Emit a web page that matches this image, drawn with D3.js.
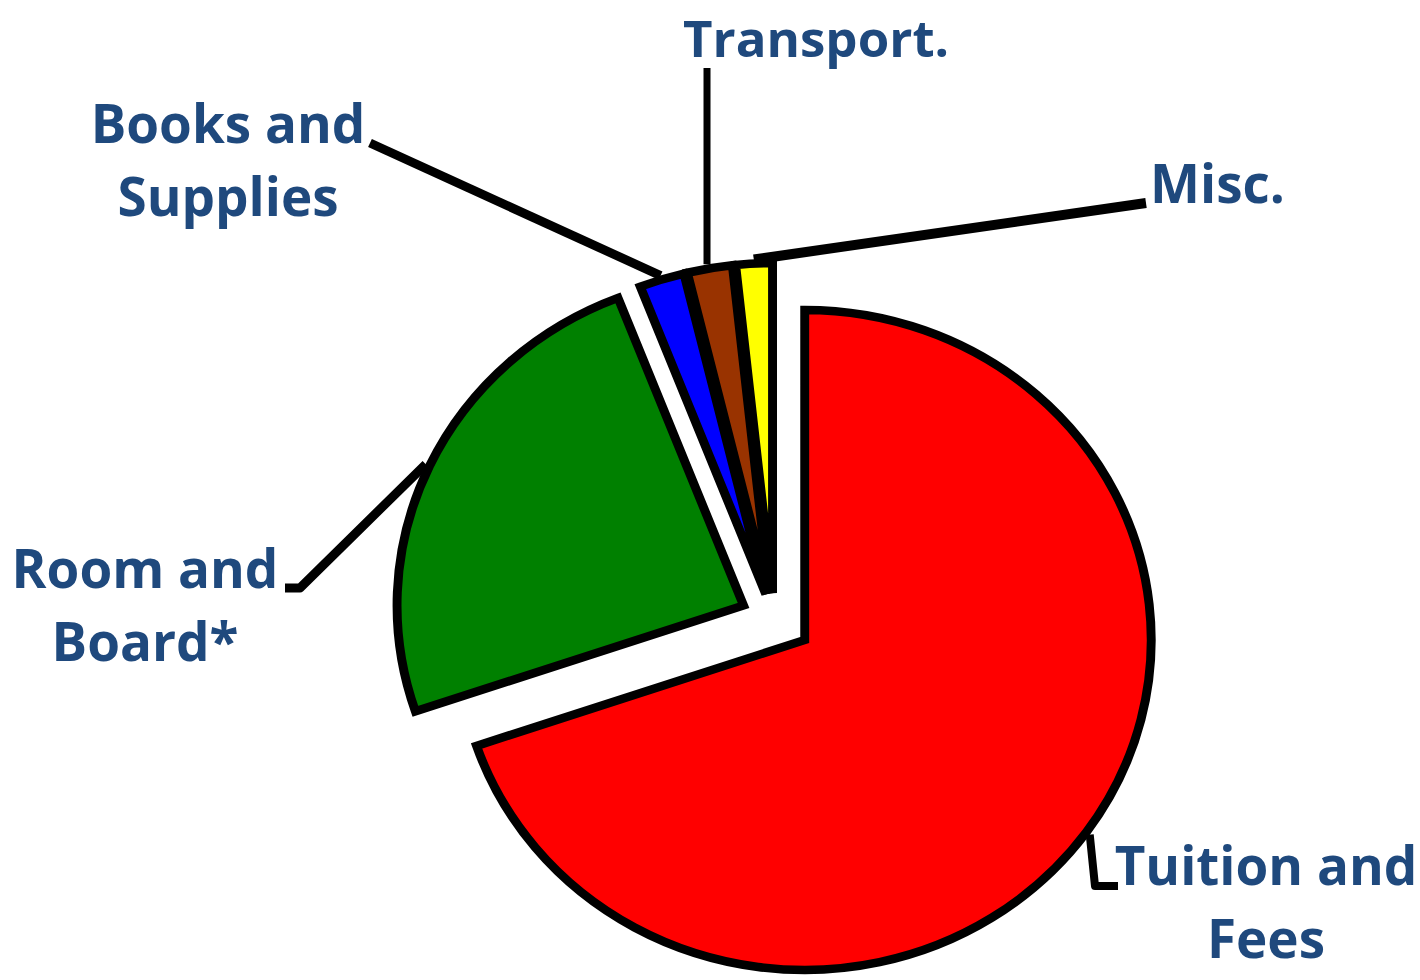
<!DOCTYPE html>
<html>
<head>
<meta charset="utf-8">
<script src="https://cdn.jsdelivr.net/npm/d3@7"></script>
<style>
  body { margin: 0; background: #fff; }
  svg { display: block; }
  .lbl { font-family: "Open Sans", sans-serif; font-weight: 700; font-size: 53px; fill: #1f497d; }
</style>
</head>
<body>
<svg id="chart" width="1420" height="980"></svg>
<script>
// Cost shares (percent)
const categories = ["Tuition and Fees", "Room and Board*", "Books and Supplies", "Transport.", "Misc."];
const shares = [69.8, 24.3, 2.1, 2.1, 1.7];
const sliceColors = ["#ff0000", "#008000", "#0000ff", "#993300", "#ffff00"];
const labelLines = [["Tuition and", "Fees"], ["Room and", "Board*"], ["Books and", "Supplies"], ["Transport."], ["Misc."]];

// layout
const cx = 774, cy = 619, radius = 330, xStretch = 1.05;
const explode = [36, 32, 26, 26, 26];
const lineGap = 73;
// label anchor, text-anchor, leader elbow points (from label side)
const labelLayout = [
  { x: 1266, y: 885, anchor: "middle", leader: [[1118, 886], [1095, 886]], width: 8 },
  { x: 145,  y: 588, anchor: "middle", leader: [[285, 588], [300, 588]], width: 9 },
  { x: 228,  y: 143, anchor: "middle", leader: [[370, 143]], width: 9 },
  { x: 683,  y: 57,  anchor: "start",  leader: [[710, 68]], vertical: true, width: 7, size: 51 },
  { x: 1150, y: 203, anchor: "start",  leader: [[1146, 203]], width: 10 }
];

const svg = d3.select("#chart");

const pie = d3.pie().sort(null).value(d => d);
const arcs = pie(shares);
const arc = d3.arc().innerRadius(0).outerRadius(radius);
const edgeArc = d3.arc().innerRadius(radius + 4).outerRadius(radius + 4);

function offsetOf(d, i) {
  const mid = (d.startAngle + d.endAngle) / 2;
  return [Math.sin(mid) * explode[i], -Math.cos(mid) * explode[i]];
}

const pieG = svg.append("g")
  .attr("transform", `translate(${cx},${cy}) scale(${xStretch},1)`);

pieG.selectAll("path")
  .data(arcs).join("path")
  .attr("transform", (d, i) => `translate(${offsetOf(d, i)})`)
  .attr("d", arc)
  .attr("fill", (d, i) => sliceColors[i])
  .attr("stroke", "#000")
  .attr("stroke-width", 8.5);

// leader lines: from slice edge to label
arcs.forEach((d, i) => {
  const off = offsetOf(d, i);
  const c = edgeArc.centroid(d);
  const p = [cx + xStretch * (off[0] + c[0]), cy + off[1] + c[1]];
  const L = labelLayout[i];
  let pts = L.leader.slice();
  if (L.vertical) pts = [[p[0] - 2, L.leader[0][1]], [p[0] - 2, p[1]]];
  else pts.push(p);
  svg.append("path")
    .attr("d", d3.line()(pts))
    .attr("fill", "none")
    .attr("stroke", "#000")
    .attr("stroke-width", L.width)
    .attr("stroke-linejoin", "round");
});

// labels
labelLines.forEach((lines, i) => {
  const L = labelLayout[i];
  const t = svg.append("text")
    .attr("class", "lbl")
    .attr("text-anchor", L.anchor);
  if (L.size) t.style("font-size", L.size + "px");
  lines.forEach((s, k) => {
    t.append("tspan").attr("x", L.x).attr("y", L.y + k * lineGap).text(s);
  });
});
</script>
</body>
</html>
